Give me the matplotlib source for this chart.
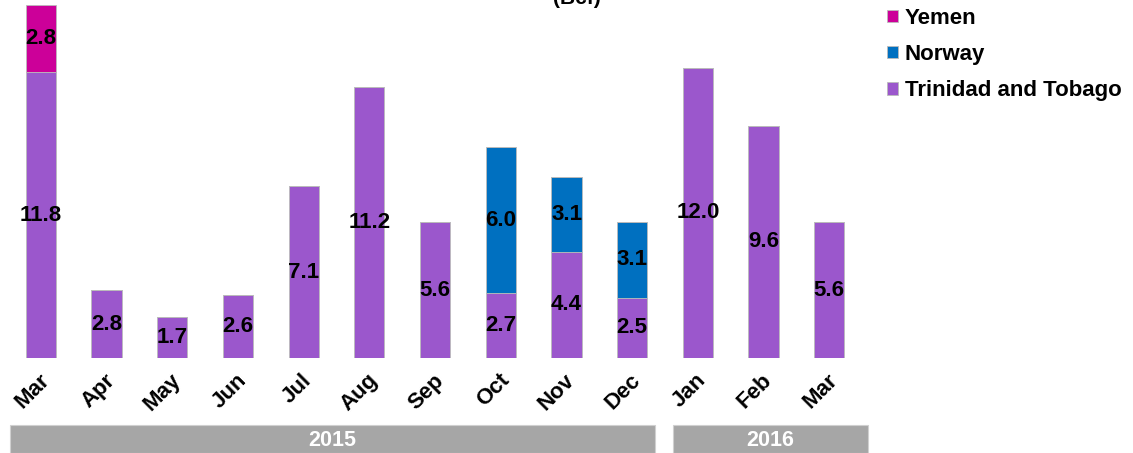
import numpy as np
import matplotlib.pyplot as plt
from matplotlib.transforms import blended_transform_factory
from matplotlib.patches import Rectangle

plt.rcParams['font.family'] = ['Liberation Sans', 'DejaVu Sans']

# Data
months = ['Mar', 'Apr', 'May', 'Jun', 'Jul', 'Aug', 'Sep', 'Oct', 'Nov', 'Dec', 'Jan', 'Feb', 'Mar']
trinidad = [11.8, 2.8, 1.7, 2.6, 7.1, 11.2, 5.6, 2.7, 4.4, 2.5, 12.0, 9.6, 5.6]
norway = [0, 0, 0, 0, 0, 0, 0, 6.0, 3.1, 3.1, 0, 0, 0]
yemen = [2.8, 0, 0, 0, 0, 0, 0, 0, 0, 0, 0, 0, 0]
years = ['2015', '2016']
year_spans = [(0, 9), (10, 12)]

c_tt = '#9B57CC'
c_no = '#0070C0'
c_ye = '#CC0099'

fig = plt.figure(figsize=(11.33, 4.53), dpi=100)
ax = fig.add_axes([8 / 1133, 95 / 453, 862 / 1133, 358 / 453])
x = np.arange(len(months))
w = 0.46

tt = np.array(trinidad)
no = np.array(norway)
ye = np.array(yemen)

b1 = ax.bar(x, tt, w, color=c_tt, edgecolor='#BBBBBB', linewidth=0.6, label='Trinidad and Tobago')
b2 = ax.bar(x, no, w, bottom=tt, color=c_no, edgecolor='#BBBBBB', linewidth=0.6, label='Norway')
b3 = ax.bar(x, ye, w, bottom=tt + no, color=c_ye, edgecolor='#BBBBBB', linewidth=0.6, label='Yemen')

# segment labels
for vals, base in [(tt, np.zeros(len(tt))), (no, tt), (ye, tt + no)]:
    for i, v in enumerate(vals):
        if v > 0:
            ax.text(x[i], base[i] + v / 2, f'{v:.1f}', ha='center', va='center',
                    fontsize=16, fontweight='bold', color='black')

ax.set_xlim(-0.5, 12.62)
ax.set_ylim(0, 358 / 24.2)
ax.set_yticks([])
for s in ax.spines.values():
    s.set_visible(False)
ax.set_xticks(x + 0.08)
ax.set_xticklabels(months, rotation=45, ha='right', va='center', rotation_mode='anchor',
                   fontsize=16, fontweight='bold')
ax.tick_params(axis='x', length=0, pad=14)

# year bands below the axis
trans = blended_transform_factory(ax.transData, fig.transFigure)
band_pad = [(0.47, 0.35), (0.38, 0.59)]
for yr, (a, b), (pl, pr) in zip(years, year_spans, band_pad):
    left = a - pl
    right = b + pr
    fig.patches.append(Rectangle((left, 0), right - left, 28 / 453, transform=trans,
                                 facecolor='#A6A6A6', edgecolor='#D0D0D0', linewidth=0.8))
    fig.text((left + right) / 2, 13 / 453, yr, transform=trans, ha='center', va='center',
             fontsize=15.5, fontweight='bold', color='white')

fig.text(577 / 1133, 1 - 4 / 453, '(Bcf)', ha='center', va='baseline', fontsize=15, fontweight='bold')

handles = [b3, b2, b1]
fig.legend(handles, [h.get_label() for h in handles], loc='upper left',
           bbox_to_anchor=(878 / 1133, 1 + 1 / 453), frameon=False,
           prop={'size': 16, 'weight': 'bold'}, handlelength=0.5, handleheight=0.5,
           handletextpad=0.3, labelspacing=0.68, borderaxespad=0)

fig.savefig('out.png', dpi=100)
